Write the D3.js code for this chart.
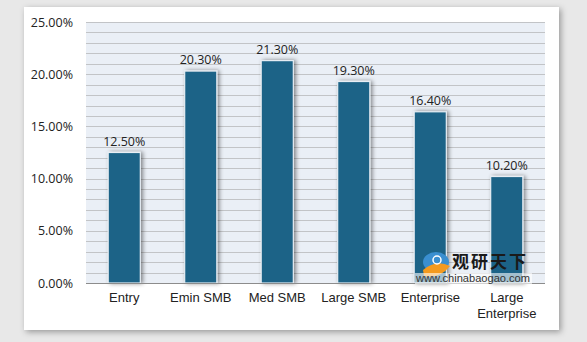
<!DOCTYPE html>
<html><head><meta charset="utf-8">
<script src="https://cdn.jsdelivr.net/npm/d3@7"></script>
<style>body{margin:0;background:#ffffff;}svg{display:block;}</style>
</head><body>
<svg id="c" width="587" height="342"></svg>
<script>
const categories = ["Entry", "Emin SMB", "Med SMB", "Large SMB", "Enterprise", "Large Enterprise"];
const values = [12.5, 20.3, 21.3, 19.3, 16.4, 10.2];
const yTicks = [0, 5, 10, 15, 20, 25];
const gridSteps = d3.range(0, 26, 1);

const svg = d3.select("#c");
const defs = svg.append("defs");
const f = defs.append("filter").attr("id","cardShadow").attr("x","-10%").attr("y","-10%").attr("width","120%").attr("height","120%");
f.append("feDropShadow").attr("dx",2).attr("dy",2).attr("stdDeviation",3).attr("flood-color","#000").attr("flood-opacity",0.35);
const fb = defs.append("filter").attr("id","barShadow").attr("x","-40%").attr("y","-20%").attr("width","180%").attr("height","140%");
fb.append("feDropShadow").attr("dx",2).attr("dy",0).attr("stdDeviation",2).attr("flood-color","#000").attr("flood-opacity",0.45);

svg.append("rect").attr("width",587).attr("height",342).attr("fill","#e8e8e8");
svg.append("rect").attr("x",24).attr("y",7).attr("width",535).attr("height",323).attr("fill","#ffffff").attr("filter","url(#cardShadow)");

const m = {left:86, right:545, top:22, bottom:283};
const x = d3.scaleBand().domain(categories).range([m.left, m.right]).paddingInner(0.58).paddingOuter(0.29);
const y = d3.scaleLinear().domain([0,25]).range([m.bottom, m.top]);

svg.append("rect").attr("x",m.left).attr("y",m.top).attr("width",m.right-m.left).attr("height",m.bottom-m.top).attr("fill","#eaeff6");

svg.append("g").selectAll("line").data(gridSteps.filter(d=>d>0)).join("line")
  .attr("x1",m.left).attr("x2",m.right)
  .attr("y1",d=>Math.round(y(d))+0.5).attr("y2",d=>Math.round(y(d))+0.5)
  .attr("stroke","#c2c4c7").attr("stroke-width",1);

svg.append("g").selectAll("rect").data(values).join("rect")
  .attr("x",(d,i)=>x(categories[i])).attr("width",x.bandwidth())
  .attr("y",d=>y(d)).attr("height",d=>y(0)-y(d))
  .attr("fill","#1b6387").attr("stroke","#e8eef4").attr("stroke-width",1.2)
  .attr("filter","url(#barShadow)");

svg.append("line").attr("x1",m.left).attr("x2",m.right).attr("y1",m.bottom+0.5).attr("y2",m.bottom+0.5).attr("stroke","#8c8c8c").attr("stroke-width",1.2);

const yAxis = d3.axisLeft(y).tickValues(yTicks).tickSize(0).tickPadding(13).tickFormat(d=>d.toFixed(2)+"%");
const ga = svg.append("g").attr("transform",`translate(${m.left},0)`).call(yAxis);
ga.select(".domain").remove();
ga.selectAll("text").attr("font-family","Open Sans, sans-serif").attr("font-size",12.5).attr("fill","#222");

svg.append("g").selectAll("text").data(values).join("text")
  .attr("x",(d,i)=>x(categories[i])+x.bandwidth()/2).attr("y",d=>y(d)-7)
  .attr("text-anchor","middle").attr("font-family","Open Sans, sans-serif").attr("font-size",12.5).attr("fill","#222")
  .text(d=>d.toFixed(2)+"%");

const xAxis = d3.axisBottom(x).tickSize(0).tickPadding(10);
const gx = svg.append("g").attr("transform",`translate(0,${m.bottom})`).call(xAxis);
gx.select(".domain").remove();
gx.selectAll("text").attr("font-family","Liberation Sans, Arial, sans-serif").attr("font-size",13).attr("fill","#222")
  .each(function(d){
    const t = d3.select(this);
    if (d === "Large Enterprise") {
      t.text(null);
      t.append("tspan").attr("x",0).attr("dy","0.71em").text("Large");
      t.append("tspan").attr("x",0).attr("dy","1.25em").text("Enterprise");
      t.attr("dy",null);
    }
  });

// watermark
const wm = svg.append("g");
wm.append("ellipse").attr("cx",436).attr("cy",262).attr("rx",13).attr("ry",10).attr("fill","#3a8fd0");
wm.append("path").attr("d","M423,270 Q436,259 450,266 Q440,279 424,276 Z").attr("fill","#f39a1f");
wm.append("circle").attr("cx",437).attr("cy",260).attr("r",4).attr("fill","none").attr("stroke","#fff").attr("stroke-width",1.5);
wm.append("text").attr("x",452).attr("y",268).attr("font-family","Noto Sans CJK SC").attr("font-weight","bold").attr("font-size",17).attr("fill","#1a1a1a").attr("letter-spacing",2).text("观研天下");
wm.append("rect").attr("x",415).attr("y",273).attr("width",117).attr("height",11).attr("fill","#ffffff").attr("opacity",0.6);
wm.append("text").attr("x",416).attr("y",282).attr("textLength",114).attr("lengthAdjust","spacingAndGlyphs").attr("font-family","Liberation Sans, Arial").attr("font-size",11.5)
  .attr("fill","#333").text("www.chinabaogao.com");
</script>
</body></html>
